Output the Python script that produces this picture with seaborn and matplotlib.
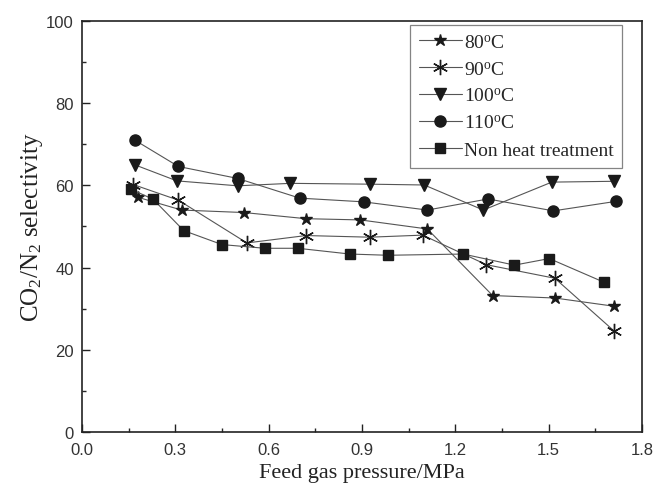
import matplotlib
matplotlib.use("Agg")
import matplotlib.pyplot as plt
import seaborn as sns
import pandas as pd

# ---- data ----
x_80 = [0.18, 0.32, 0.52, 0.72, 0.895, 1.11, 1.32, 1.52, 1.71]
y_80 = [57.1, 54.0, 53.4, 51.9, 51.6, 49.4, 33.2, 32.6, 30.6]

x_90 = [0.165, 0.31, 0.53, 0.72, 0.925, 1.095, 1.30, 1.52, 1.71]
y_90 = [60.2, 56.4, 46.0, 47.8, 47.4, 47.9, 40.7, 37.4, 24.6]

x_100 = [0.17, 0.305, 0.50, 0.67, 0.925, 1.10, 1.29, 1.51, 1.71]
y_100 = [65.0, 61.1, 59.9, 60.5, 60.3, 60.1, 54.0, 60.8, 61.0]

x_110 = [0.17, 0.31, 0.50, 0.70, 0.905, 1.11, 1.305, 1.515, 1.715]
y_110 = [71.0, 64.6, 61.7, 56.9, 56.0, 54.0, 56.7, 53.8, 56.1]

x_non = [0.157, 0.229, 0.327, 0.45, 0.588, 0.694, 0.861, 0.983, 1.225, 1.39, 1.502, 1.679]
y_non = [59.1, 56.6, 49.0, 45.6, 44.7, 44.7, 43.3, 43.0, 43.3, 40.6, 42.2, 36.4]

series_labels = ["80$^\\mathregular{o}$C", "90$^\\mathregular{o}$C", "100$^\\mathregular{o}$C",
                 "110$^\\mathregular{o}$C", "Non heat treatment"]
x_ticks = [0.0, 0.3, 0.6, 0.9, 1.2, 1.5, 1.8]
y_ticks = [0, 20, 40, 60, 80, 100]

sns.set_style("ticks")
plt.rcParams["font.family"] = ["Liberation Sans", "DejaVu Sans"]
plt.rcParams["mathtext.default"] = "regular"

fig = plt.figure(figsize=(6.54, 4.85), dpi=100)
ax = fig.add_axes([82 / 654, 1 - 433 / 485, 560 / 654, 411 / 485])

series = [(x_80, y_80, "*", 9, 1.0),
          (x_90, y_90, (6, 2, 0), 11, 1.0),
          (x_100, y_100, "v", 9, 1.0),
          (x_110, y_110, "o", 8, 1.0),
          (x_non, y_non, "s", 7, 1.0)]

for (xs, ys, mk, ms, mew), lab in zip(series, series_labels):
    df = pd.DataFrame({"x": xs, "y": ys})
    sns.lineplot(data=df, x="x", y="y", ax=ax, sort=False, estimator=None,
                 color="#555555", linewidth=0.8, marker=mk, markersize=ms,
                 markerfacecolor="#1a1a1a", markeredgecolor="#1a1a1a",
                 markeredgewidth=mew, label=lab)

ax.set_xlim(0, 1.8)
ax.set_ylim(0, 100)
ax.set_xticks(x_ticks)
ax.set_xticklabels([f"{v:.1f}" for v in x_ticks])
ax.set_yticks(y_ticks)
ax.set_xticks([0.15, 0.45, 0.75, 1.05, 1.35, 1.65], minor=True)
ax.set_yticks([10, 30, 50, 70, 90], minor=True)
ax.tick_params(axis="both", which="major", direction="in", length=6, width=1,
               labelsize=12, colors="#222222", labelcolor="#333333", top=False, right=False)
ax.tick_params(axis="x", which="major", pad=7)
ax.tick_params(axis="y", which="major", pad=6)
ax.tick_params(axis="both", which="minor", direction="in", length=3, width=1,
               top=False, right=False)
for s in ax.spines.values():
    s.set_visible(True)
    s.set_linewidth(1.2)
    s.set_color("#222222")

ax.set_xlabel("Feed gas pressure/MPa", family=["Liberation Serif"], fontsize=16, labelpad=4.5,
              color="#222222")
ax.set_ylabel("CO$_\\mathregular{2}$/N$_\\mathregular{2}$ selectivity", family=["Liberation Serif"],
              fontsize=18, labelpad=1, color="#222222")

handles, labels = ax.get_legend_handles_labels()
leg = ax.legend(handles, labels, loc="upper right", bbox_to_anchor=(0.964, 0.99),
                borderaxespad=0, frameon=True, fancybox=False, edgecolor="#666666",
                prop={"family": "Liberation Serif", "size": 14}, handlelength=2.2,
                handletextpad=0.1, labelspacing=0.48, borderpad=0.44)
leg.get_frame().set_linewidth(0.9)

fig.savefig("out.png", dpi=100)
